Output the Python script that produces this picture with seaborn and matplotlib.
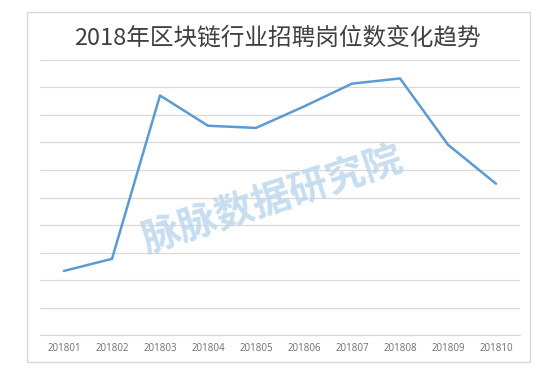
import matplotlib.pyplot as plt
import seaborn as sns
import pandas as pd
from matplotlib.patches import Rectangle

# ===== DATA =====
months = ["201801", "201802", "201803", "201804", "201805",
          "201806", "201807", "201808", "201809", "201810"]
jobs = [233, 277, 871, 761, 753, 831, 914, 933, 692, 550]

df = pd.DataFrame({"month": months, "jobs": jobs})

# ===== STYLE =====
sns.set_style("white")
plt.rcParams['font.family'] = ['Noto Sans CJK SC', 'DejaVu Sans']

fig = plt.figure(figsize=(5.54, 3.71), dpi=100)
ax = fig.add_axes([40 / 554, 36 / 371, 480 / 554, 275 / 371])

sns.lineplot(data=df, x="month", y="jobs", ax=ax, color="#5B9BD5",
             linewidth=1.8, sort=False)

ax.set_xlim(-0.5, len(months) - 0.5)
ax.set_ylim(0, 1000)
ax.set_yticks(range(0, 1001, 100))
ax.yaxis.grid(True, color="#D9D9D9", linewidth=0.9)
ax.set_axisbelow(True)
ax.set_yticklabels([])
ax.tick_params(axis='y', length=0)
ax.tick_params(axis='x', length=0, labelsize=7, labelcolor="#6E6E6E", pad=6)
for lab in ax.get_xticklabels():
    lab.set_family(['Open Sans', 'DejaVu Sans'])
ax.set_xlabel("")
ax.set_ylabel("")
for side in ["top", "right", "left"]:
    ax.spines[side].set_visible(False)
ax.spines["bottom"].set_color("#D9D9D9")
ax.spines["bottom"].set_linewidth(0.9)

# outer frame
fig.patches.append(Rectangle((27 / 554, 9 / 371), 503 / 554, 350 / 371,
                             transform=fig.transFigure, fill=False,
                             edgecolor="#D9D9D9", linewidth=1))

# title
fig.text(0.5, 1 - 38 / 371, "2018年区块链行业招聘岗位数变化趋势",
         ha="center", va="center", fontsize=17, color="#404040",
         fontweight="light")

# watermark
fig.text(272 / 554, 1 - 200 / 371, "脉脉数据研究院", ha="center", va="center",
         fontsize=28, fontweight="heavy", color="#BDD7EE", alpha=0.85,
         rotation=18)

fig.savefig("out.png", dpi=100)
